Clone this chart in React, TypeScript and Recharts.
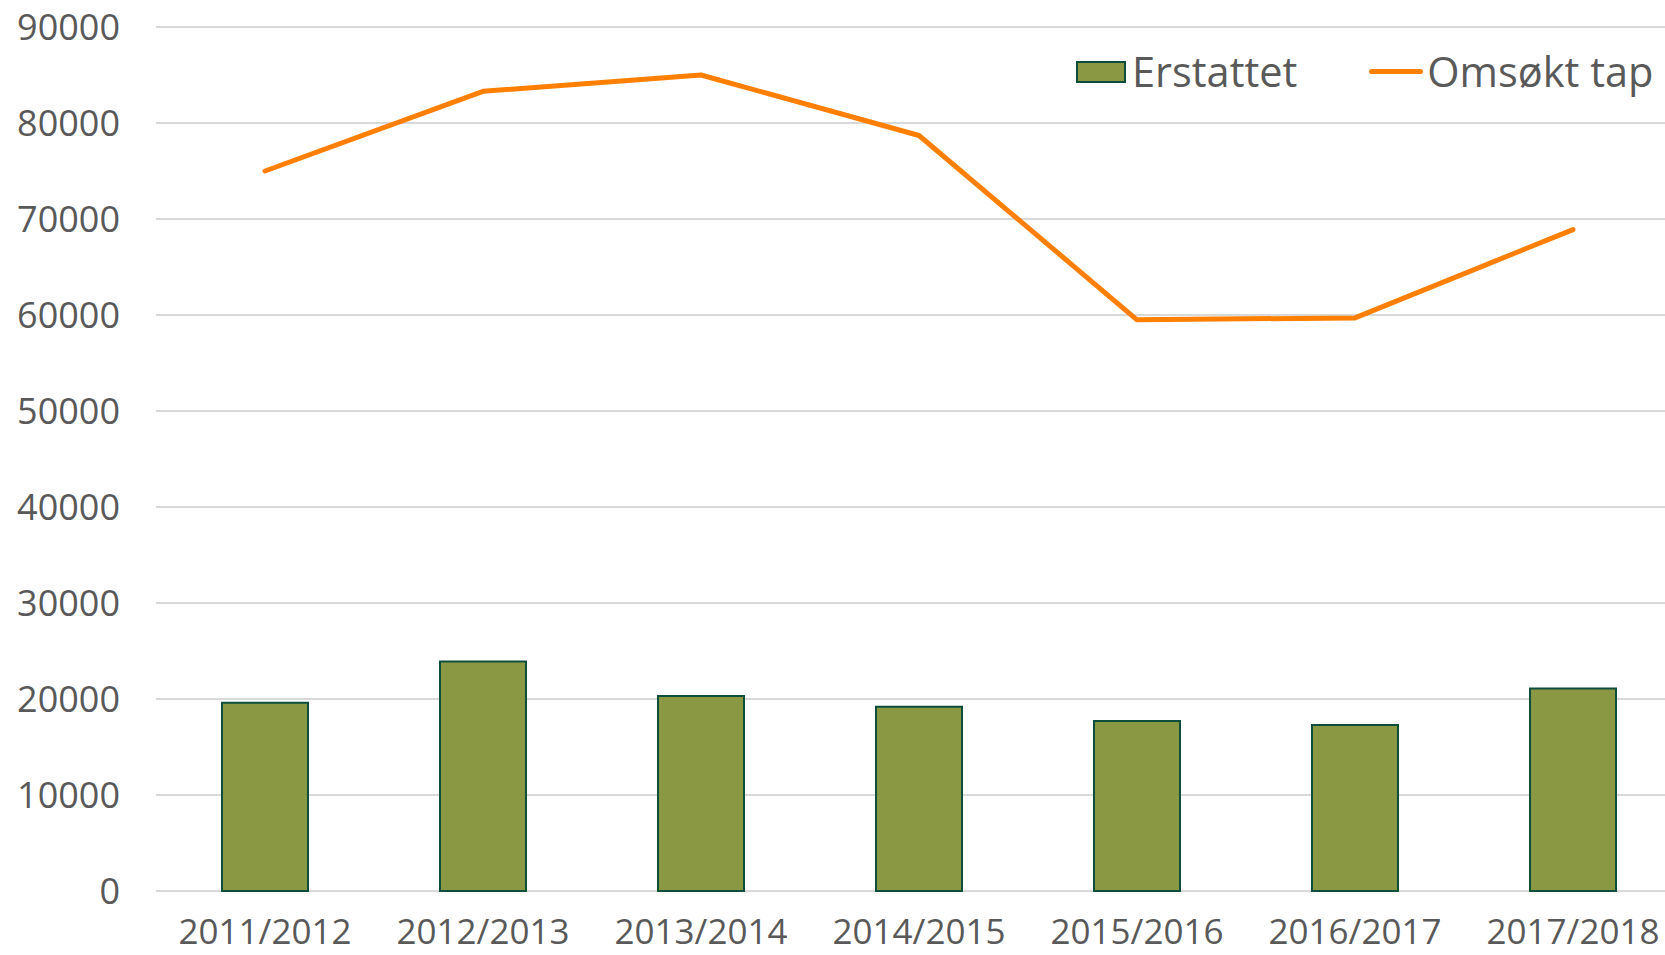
import React from "react";
import { ComposedChart, Bar, Line, XAxis, YAxis, CartesianGrid } from "recharts";

const categories = ["2011/2012", "2012/2013", "2013/2014", "2014/2015", "2015/2016", "2016/2017", "2017/2018"];
const erstattet = [19600, 23900, 20300, 19200, 17700, 17300, 21100];
const omsoktTap = [75000, 83300, 85000, 78700, 59500, 59700, 68900];
const yTicks = [0, 10000, 20000, 30000, 40000, 50000, 60000, 70000, 80000, 90000];

const data = categories.map((c, i) => ({ cat: c, erstattet: erstattet[i], omsokt: omsoktTap[i] }));

const FONT = "'Open Sans', sans-serif";
const TEXT = "#595959";
const BAR_FILL = "#8A9844";
const BAR_STROKE = "#0E4D3C";
const LINE = "#FF8000";

const LegendBox = () => (
  <div style={{ position: "absolute", left: 1076, top: 51, display: "flex", alignItems: "center", fontFamily: FONT, fontSize: 41.5, color: TEXT, lineHeight: 1, whiteSpace: "nowrap" }}>
    <span style={{ display: "inline-block", width: 46, height: 18, background: BAR_FILL, border: `2px solid ${BAR_STROKE}`, marginRight: 6 }} />
    <span>Erstattet</span>
    <span style={{ display: "inline-block", width: 54, height: 5, background: LINE, borderRadius: 3, marginLeft: 72, marginRight: 4 }} />
    <span>Omsøkt tap</span>
  </div>
);

export default function App() {
  return (
    <div style={{ position: "absolute", left: 0, top: 0, width: 1665, height: 955, overflow: "hidden", background: "#fff" }}>
      <ComposedChart
        width={1700}
        height={955}
        data={data}
        margin={{ top: 27, right: 18, left: 0, bottom: 0 }}
        barCategoryGap={0}
      >
        <CartesianGrid vertical={false} stroke="#D9D9D9" strokeWidth={2} />
        <XAxis
          dataKey="cat"
          axisLine={false}
          tickLine={false}
          height={64}
          tickMargin={22}
          tick={{ fill: TEXT, fontSize: 35, fontFamily: FONT }}
          interval={0}
        />
        <YAxis
          domain={[0, 90000]}
          ticks={yTicks}
          axisLine={false}
          tickLine={false}
          width={156}
          tickMargin={30}
          tick={{ fill: TEXT, fontSize: 36, fontFamily: FONT }}
        />
        <Bar dataKey="erstattet" name="Erstattet" fill={BAR_FILL} stroke={BAR_STROKE} strokeWidth={2} barSize={86} isAnimationActive={false} />
        <Line dataKey="omsokt" name="Omsøkt tap" stroke={LINE} strokeWidth={5} dot={false} strokeLinecap="round" strokeLinejoin="round" type="linear" isAnimationActive={false} />
      </ComposedChart>
      <LegendBox />
    </div>
  );
}
